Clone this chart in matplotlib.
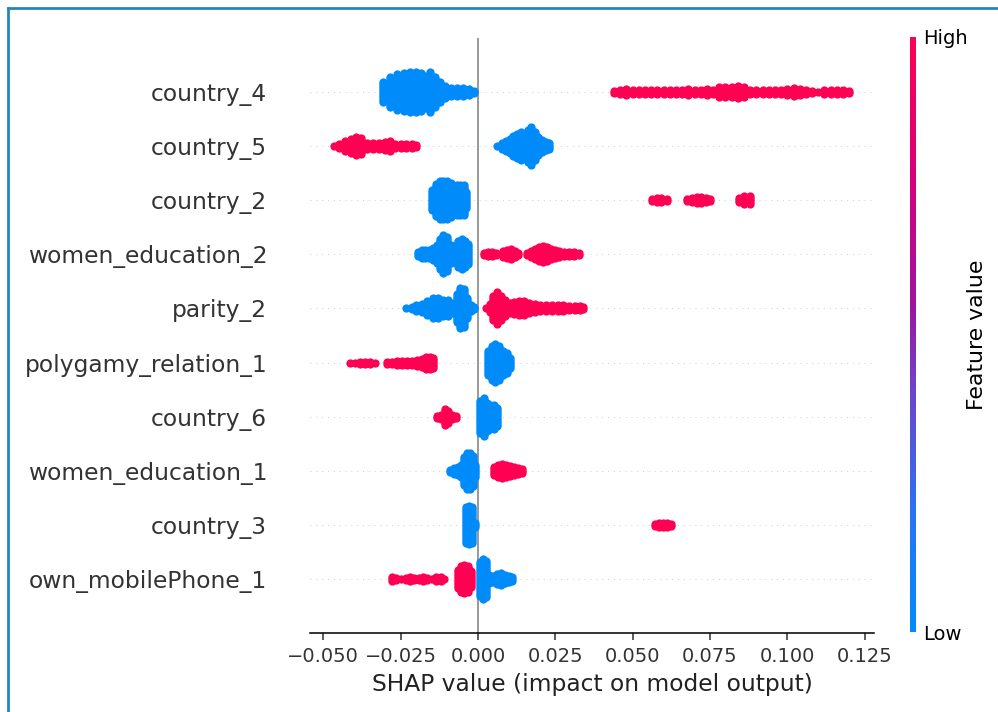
import numpy as np
import matplotlib
matplotlib.use("Agg")
import matplotlib.pyplot as plt
from matplotlib.colors import LinearSegmentedColormap, Normalize
from matplotlib.cm import ScalarMappable
from matplotlib.lines import Line2D

# ---------------- data (top to bottom) ----------------
features = ["country_4", "country_5", "country_2", "women_education_2", "parity_2",
            "polygamy_relation_1", "country_6", "women_education_1", "country_3",
            "own_mobilePhone_1"]

# SHAP value columns and number of stacked points per column; low = blue, high = red
country_4_low_x = [-0.0307, -0.0285, -0.0262, -0.0239, -0.0220, -0.0200, -0.0184, -0.0171, -0.0155,
                   -0.0139, -0.0123, -0.0107, -0.0087, -0.0068, -0.0048, -0.0029, -0.0013]
country_4_low_n = [11, 16, 19, 20, 21, 21, 20, 17, 21, 16, 11, 7, 5, 5, 5, 4, 2]
country_4_high_x = [0.044, 0.046, 0.048, 0.050, 0.052, 0.054, 0.056, 0.058, 0.060, 0.062, 0.064,
                    0.066, 0.068, 0.070, 0.072, 0.074, 0.076, 0.078, 0.080, 0.082, 0.084, 0.086,
                    0.088, 0.090, 0.092, 0.094, 0.096, 0.098, 0.100, 0.102, 0.104, 0.106, 0.108,
                    0.110, 0.112, 0.114, 0.116, 0.118, 0.120]
country_4_high_n = [2, 3, 4, 3, 3, 3, 3, 3, 3, 3, 3, 3, 4, 3, 3, 4, 3, 6, 6, 6, 7, 6,
                    3, 3, 3, 3, 3, 3, 4, 5, 4, 3, 2, 1, 3, 3, 3, 3, 2]

country_5_low_x = [0.0063, 0.0078, 0.0090, 0.0102, 0.0114, 0.0126, 0.0138, 0.0152, 0.0162, 0.0172,
                   0.0183, 0.0195, 0.0207, 0.0220, 0.0228]
country_5_low_n = [1, 4, 6, 8, 11, 13, 15, 13, 17, 20, 15, 10, 7, 5, 4]
country_5_high_x = [-0.0467, -0.0450, -0.0430, -0.0411, -0.0393, -0.0378, -0.0360, -0.0340, -0.0320,
                    -0.0300, -0.0285, -0.0268, -0.0250, -0.0232, -0.0214, -0.0200]
country_5_high_n = [1, 3, 6, 8, 10, 9, 4, 4, 4, 5, 6, 3, 3, 3, 3, 2]

country_2_low_x = [-0.0148, -0.0136, -0.0124, -0.0112, -0.0100, -0.0088, -0.0078, -0.0068, -0.0057,
                   -0.0046, -0.0039]
country_2_low_n = [11, 17, 20, 20, 20, 18, 8, 16, 16, 16, 9]
country_2_high_x = [0.0562, 0.0577, 0.0592, 0.0610, 0.0677, 0.0692, 0.0707, 0.0722, 0.0737, 0.0750,
                    0.0845, 0.0860, 0.0878]
country_2_high_n = [2, 3, 3, 2, 2, 3, 4, 4, 3, 2, 3, 5, 5]

women_education_2_low_x = [-0.0194, -0.0182, -0.0170, -0.0158, -0.0145, -0.0134, -0.0123, -0.0112,
                           -0.0100, -0.0088, -0.0076, -0.0065, -0.0053, -0.0042, -0.0031]
women_education_2_low_n = [3, 5, 5, 5, 7, 10, 16, 20, 18, 10, 9, 14, 16, 14, 11]
women_education_2_high_x = [0.0019, 0.0032, 0.0045, 0.0058, 0.0081, 0.0094, 0.0107, 0.0120, 0.0130,
                            0.0158, 0.0171, 0.0184, 0.0197, 0.0210, 0.0223, 0.0236, 0.0249, 0.0262,
                            0.0278, 0.0294, 0.0310, 0.0326]
women_education_2_high_n = [2, 3, 3, 2, 4, 5, 6, 4, 2, 2, 4, 6, 8, 9, 8, 6, 5, 4, 3, 3, 3, 2]

parity_2_low_x = [-0.0232, -0.0213, -0.0201, -0.0182, -0.0164, -0.0145, -0.0130, -0.0114, -0.0096,
                  -0.0081, -0.0069, -0.0059, -0.0046, -0.0034, -0.0021, -0.0013]
parity_2_low_n = [1, 2, 4, 5, 8, 11, 11, 9, 9, 6, 15, 21, 20, 11, 4, 2]
parity_2_high_x = [0.0026, 0.0038, 0.0050, 0.0063, 0.0075, 0.0087, 0.0102, 0.0117, 0.0133, 0.0149,
                   0.0164, 0.0183, 0.0201, 0.0220, 0.0238, 0.0257, 0.0276, 0.0294, 0.0313, 0.0331,
                   0.0341]
parity_2_high_n = [1, 5, 13, 17, 13, 9, 6, 7, 8, 8, 6, 5, 4, 4, 4, 4, 4, 3, 3, 3, 2]

polygamy_relation_1_low_x = [0.0032, 0.0044, 0.0055, 0.0068, 0.0081, 0.0094, 0.0103]
polygamy_relation_1_low_n = [13, 18, 20, 18, 13, 11, 6]
polygamy_relation_1_high_x = [-0.0414, -0.0398, -0.0382, -0.0366, -0.0350, -0.0334, -0.0294, -0.0278,
                              -0.0262, -0.0246, -0.0230, -0.0214, -0.0198, -0.0182, -0.0167, -0.0155,
                              -0.0145]
polygamy_relation_1_high_n = [1, 1, 2, 2, 2, 1, 2, 2, 3, 3, 3, 3, 4, 5, 7, 7, 6]

country_6_low_x = [0.0006, 0.0018, 0.0029, 0.0039, 0.0052, 0.0063]
country_6_low_n = [17, 20, 15, 13, 13, 10]
country_6_high_x = [-0.0133, -0.0120, -0.0108, -0.0097, -0.0084, -0.0071]
country_6_high_n = [2, 3, 9, 7, 3, 2]

women_education_1_low_x = [-0.0091, -0.0078, -0.0066, -0.0055, -0.0045, -0.0036, -0.0026, -0.0016,
                           -0.0010]
women_education_1_low_n = [2, 4, 5, 7, 15, 19, 19, 16, 7]
women_education_1_high_x = [0.0052, 0.0065, 0.0078, 0.0091, 0.0103, 0.0116, 0.0129, 0.0142]
women_education_1_high_n = [5, 7, 8, 7, 6, 5, 4, 3]

country_3_low_x = [-0.0040, -0.0029, -0.0019, -0.0010]
country_3_low_n = [19, 20, 19, 3]
country_3_high_x = [0.0572, 0.0585, 0.0598, 0.0611, 0.0624]
country_3_high_n = [2, 3, 3, 3, 2]

own_mobilePhone_1_low_x = [0.0006, 0.0016, 0.0026, 0.0036, 0.0048, 0.0061, 0.0074, 0.0087, 0.0100,
                           0.0110]
own_mobilePhone_1_low_n = [18, 21, 19, 5, 4, 6, 7, 5, 4, 3]
own_mobilePhone_1_high_x = [-0.0278, -0.0265, -0.0249, -0.0233, -0.0220, -0.0207, -0.0191, -0.0178,
                            -0.0165, -0.0149, -0.0136, -0.0120, -0.0110, -0.0065, -0.0055, -0.0044,
                            -0.0032, -0.0024]
own_mobilePhone_1_high_n = [3, 2, 1, 2, 3, 2, 2, 3, 2, 1, 3, 3, 1, 10, 14, 15, 14, 9]

xticks = [-0.050, -0.025, 0.000, 0.025, 0.050, 0.075, 0.100, 0.125]

data = {
    "country_4": (country_4_low_x, country_4_low_n, country_4_high_x, country_4_high_n),
    "country_5": (country_5_low_x, country_5_low_n, country_5_high_x, country_5_high_n),
    "country_2": (country_2_low_x, country_2_low_n, country_2_high_x, country_2_high_n),
    "women_education_2": (women_education_2_low_x, women_education_2_low_n,
                          women_education_2_high_x, women_education_2_high_n),
    "parity_2": (parity_2_low_x, parity_2_low_n, parity_2_high_x, parity_2_high_n),
    "polygamy_relation_1": (polygamy_relation_1_low_x, polygamy_relation_1_low_n,
                            polygamy_relation_1_high_x, polygamy_relation_1_high_n),
    "country_6": (country_6_low_x, country_6_low_n, country_6_high_x, country_6_high_n),
    "women_education_1": (women_education_1_low_x, women_education_1_low_n,
                          women_education_1_high_x, women_education_1_high_n),
    "country_3": (country_3_low_x, country_3_low_n, country_3_high_x, country_3_high_n),
    "own_mobilePhone_1": (own_mobilePhone_1_low_x, own_mobilePhone_1_low_n,
                          own_mobilePhone_1_high_x, own_mobilePhone_1_high_n),
}

# ---------------- styling ----------------
BLUE = "#008bfb"
RED = "#ff0052"
STEP = 0.037  # vertical spacing of stacked points (row units)
cmap = LinearSegmentedColormap.from_list(
    "shap_rb", [(0.0, "#008bfb"), (0.2, "#2a72f4"), (0.4, "#6c45cc"),
                (0.55, "#9c159e"), (0.75, "#d2007c"), (1.0, "#ff0052")])

W, H, DPI = 998, 712, 140
fig = plt.figure(figsize=(W / DPI, H / DPI), dpi=DPI)
ax = fig.add_axes([310 / W, 1 - 633 / H, 564 / W, 595 / H])

n_feat = len(features)
for i, name in enumerate(features):
    row = n_feat - 1 - i
    ax.axhline(y=row, color="#cccccc", lw=0.5, dashes=(1, 5), zorder=-1)
    lx, ln, hx, hn = data[name]
    for xs, ns, col in ((lx, ln, BLUE), (hx, hn, RED)):
        px, py = [], []
        for x, n in zip(xs, ns):
            offs = (np.arange(n) - (n - 1) / 2.0) * STEP
            px.extend([x] * n)
            py.extend(row + offs)
        ax.scatter(px, py, s=18, c=col, linewidths=0, zorder=3)

ax.axvline(x=0, color="#999999", zorder=-1, lw=1.0)

ax.set_xlim(-0.0543, 0.1280)
ax.set_ylim(-1, n_feat)
ax.set_yticks(range(n_feat))
ax.set_yticklabels(features[::-1], fontsize=12)
ax.set_xticks(xticks)
for s in ("top", "right", "left"):
    ax.spines[s].set_visible(False)
ax.xaxis.set_ticks_position("bottom")
ax.tick_params(color="#333333", labelcolor="#333333")
ax.tick_params("x", labelsize=10)
ax.tick_params("y", length=0, pad=22)
ax.set_xlabel("SHAP value (impact on model output)", fontsize=12, color="#222222")

# colorbar
cax = fig.add_axes([910 / W, 1 - 632 / H, 6 / W, 595 / H])
cb = fig.colorbar(ScalarMappable(norm=Normalize(0, 1), cmap=cmap), cax=cax, ticks=[0, 1])
cb.set_ticklabels(["Low", "High"])
cb.ax.tick_params(labelsize=10, length=0)
cb.set_label("Feature value", size=11.3, labelpad=0)
cb.outline.set_visible(False)

# frame around the figure (left and top edges)
bc = "#1f86b9"
fig.add_artist(Line2D([7.5 / W, 7.5 / W], [0, 1 - 8 / H], transform=fig.transFigure,
                      color=bc, lw=1.4))
fig.add_artist(Line2D([7.5 / W, 1.0], [1 - 8 / H, 1 - 8 / H], transform=fig.transFigure,
                      color=bc, lw=1.4))

fig.savefig("out.png", dpi=DPI)
